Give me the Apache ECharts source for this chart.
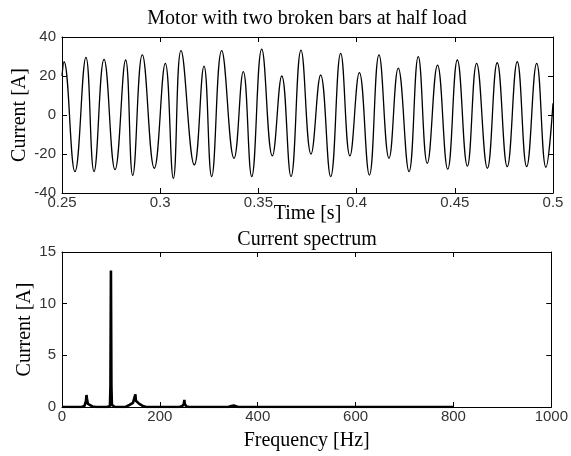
<!DOCTYPE html>
<html>
<head>
<meta charset="utf-8">
<script src="https://cdn.jsdelivr.net/npm/echarts@6/dist/echarts.min.js"></script>
<style>
	html, body { margin: 0; padding: 0; background: #fff; }
	#chart { width: 571px; height: 456px; }
</style>
</head>
<body>
<div id="chart"></div>
<script>
	// time signal: peaks and troughs
	var timeS = [0.2500, 0.2510, 0.2566, 0.2622, 0.2663, 0.2714, 0.2770, 0.2824, 0.2860, 0.2909,
		0.2970, 0.3026, 0.3067, 0.3106, 0.3174, 0.3223, 0.3262, 0.3313, 0.3376, 0.3423,
		0.3466, 0.3517, 0.3571, 0.3619, 0.3666, 0.3717, 0.3768, 0.3817, 0.3868, 0.3919,
		0.3966, 0.4014, 0.4065, 0.4114, 0.4165, 0.4212, 0.4267, 0.4314, 0.4360, 0.4412,
		0.4464, 0.4513, 0.4564, 0.4611, 0.4666, 0.4716, 0.4767, 0.4818, 0.4866, 0.4917,
		0.4964, 0.5000];
	var currentA = [20, 27.3, -29, 29.6, -29, 28.5, -28, 28.2, -31, 30.8,
		-27.3, 26.5, -32.5, 33, -25.6, 25.1, -31.6, 33, -22.2, 22.2,
		-31.6, 33.8, -21, 20, -31.6, 33.3, -20, 20.5, -31.6, 31.6,
		-21, 21.7, -30.8, 30.8, -22.2, 24, -29, 29.9, -24.8, 25.6,
		-27.8, 28.2, -26.2, 26.5, -27.3, 26.8, -26.5, 27.3, -26.5, 26.5,
		-26.8, 6];

	// current spectrum
	var specFreq = [0, 40, 46, 49, 50, 51, 53, 57, 62, 70, 92, 96, 98, 99, 100, 101, 102, 104, 108,
		130, 138, 145, 149, 150, 151, 153, 158, 165, 172, 240, 246, 249, 250, 251, 254, 260,
		340, 346, 349, 350, 351, 354, 360, 444, 448, 452, 496, 500, 504, 800];
	var specAmp = [0, 0, 0.1, 0.6, 1.16, 0.8, 0.3, 0.2, 0.05, 0, 0, 0.15, 0.1, 2, 13.2, 2, 0.2, 0.15, 0,
		0, 0.2, 0.4, 0.5, 1.23, 0.6, 0.45, 0.3, 0.1, 0, 0, 0.1, 0.3, 0.68, 0.3, 0.05, 0,
		0, 0.1, 0.15, 0.2, 0.15, 0.05, 0, 0, 0.08, 0, 0, 0.12, 0, 0];

	var timeTicks = [0.25, 0.3, 0.35, 0.4, 0.45, 0.5];
	var currentTicks = [-40, -20, 0, 20, 40];
	var freqTicks = [0, 200, 400, 600, 800, 1000];
	var ampTicks = [0, 5, 10, 15];

	var serif = "'Liberation Serif', 'DejaVu Serif', serif";
	var sans = "'Liberation Sans', Arial, sans-serif";

	var pairs = function(xs, ys)
	{
		var re = [];
		for(var i=0; i<xs.length; i++)
			re.push([xs[i], ys[i]]);
		return re;
	};

	var boxAxis = function(gridIndex, position, ticks, min, max, showLabel, name, nameGap)
	{
		var vertical = (position == 'left' || position == 'right');

		return {
			type: 'value',
			gridIndex: gridIndex,
			position: position,
			min: min,
			max: max,
			interval: ticks[1] - ticks[0],
			splitLine: { show: false },
			axisLine: { show: true, onZero: false, lineStyle: { color: '#000', width: 1 } },
			axisTick: { show: true, inside: true, length: 5, customValues: ticks, lineStyle: { color: '#000' } },
			axisLabel: {
				show: showLabel, customValues: ticks, margin: vertical ? 6 : 2,
				color: '#333', fontFamily: sans, fontSize: 15,
				formatter: function(v) { return String(+(+v).toFixed(2)); }
			},
			name: showLabel ? name : '',
			nameLocation: 'middle',
			nameGap: nameGap,
			nameMoveOverlap: false,
			nameTextStyle: { color: '#000', fontFamily: serif, fontSize: 20 }
		};
	};

	var chart = echarts.init(document.getElementById('chart'), null, { renderer: 'canvas' });

	chart.setOption({
		animation: false,
		backgroundColor: '#fff',
		title: [
			{ text: 'Motor with two broken bars at half load', left: 307, top: 9, textAlign: 'center', padding: 0,
				textStyle: { color: '#000', fontFamily: serif, fontSize: 20, fontWeight: 'normal' } },
			{ text: 'Current spectrum', left: 307, top: 230, textAlign: 'center', padding: 0,
				textStyle: { color: '#000', fontFamily: serif, fontSize: 20, fontWeight: 'normal' } }
		],
		grid: [
			{ left: 62, right: 18, top: 37, height: 156 },
			{ left: 62, right: 19, top: 252, height: 155 }
		],
		xAxis: [
			boxAxis(0, 'bottom', timeTicks, 0.25, 0.5, true, 'Time [s]', 11),
			boxAxis(0, 'top', timeTicks, 0.25, 0.5, false),
			boxAxis(1, 'bottom', freqTicks, 0, 1000, true, 'Frequency [Hz]', 24),
			boxAxis(1, 'top', freqTicks, 0, 1000, false)
		],
		yAxis: [
			boxAxis(0, 'left', currentTicks, -40, 40, true, 'Current [A]', 32),
			boxAxis(0, 'right', currentTicks, -40, 40, false),
			boxAxis(1, 'left', ampTicks, 0, 15, true, 'Current [A]', 27),
			boxAxis(1, 'right', ampTicks, 0, 15, false)
		],
		series: [
			{
				type: 'line', xAxisIndex: 0, yAxisIndex: 0,
				data: pairs(timeS, currentA),
				smooth: 0.45, showSymbol: false,
				lineStyle: { color: '#000', width: 1.3 }
			},
			{
				type: 'line', xAxisIndex: 2, yAxisIndex: 2,
				data: pairs(specFreq, specAmp),
				showSymbol: false,
				lineStyle: { color: '#000', width: 2.6 }
			}
		]
	});
</script>
</body>
</html>
